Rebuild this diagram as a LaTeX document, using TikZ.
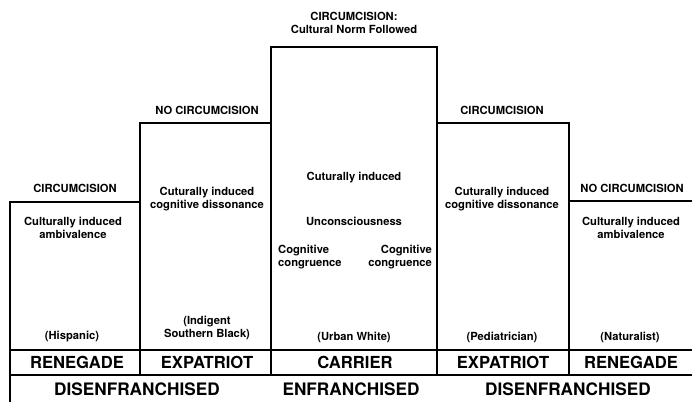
\documentclass[tikz,border=0pt]{standalone}
\usepackage{fontspec}
\setmainfont{TeX Gyre Heros}
\begin{document}
\begin{tikzpicture}[x=1pt,y=-1pt,
  frame/.style={line width=1.1pt,black},
  small/.style={font=\bfseries\fontsize{11.2}{12.5}\selectfont,align=center,inner sep=0pt},
  role/.style={font=\bfseries\fontsize{16.6}{20}\selectfont,inner sep=0pt},
  status/.style={font=\bfseries\fontsize{17.2}{20}\selectfont,inner sep=0pt}]
\useasboundingbox (0,0) rectangle (692,402);
% outline
\draw[frame] (10,402) -- (10,202) -- (140,202);
\draw[frame] (140,375) -- (140,123) -- (271,123);
\draw[frame] (271,375) -- (271,47) -- (437,47) -- (437,375);
\draw[frame] (437,123) -- (569,123) -- (569,375);
\draw[frame] (569,201) -- (692,201);
\draw[frame] (10,350) -- (692,350);
\draw[frame] (10,375) -- (692,375);
% headers
\node[small] (h1) at (75,188) {CIRCUMCISION};
\node[small] (h2) at (207,110) {NO CIRCUMCISION};
\node[small] (h3) at (354,23) {CIRCUMCISION:\\Cultural Norm Followed};
\node[small] (h4) at (502,110) {CIRCUMCISION};
\node[small] (h5) at (632,188) {NO CIRCUMCISION};
% bodies
\node[small] (b1) at (73,228) {Culturally induced\\ambivalence};
\node[small] (b2) at (207,199) {Cuturally induced\\cognitive dissonance};
\node[small] (b3a) at (354,178) {Cuturally induced};
\node[small] (b3b) at (354,221) {Unconsciousness};
\node[small,align=left,anchor=west] (b3c) at (278,257) {Cognitive\\congruence};
\node[small,align=right,anchor=east] (b3d) at (432,257) {Cognitive\\congruence};
\node[small] (b4) at (502,199) {Cuturally induced\\cognitive dissonance};
\node[small] (b5) at (631,228) {Culturally induced\\ambivalence};
% groups
\node[small] (g1) at (72,337) {(Hispanic)};
\node[small] (g2) at (207,328) {(Indigent\\Southern Black)};
\node[small] (g3) at (354,337) {(Urban White)};
\node[small] (g4) at (502,337) {(Pediatrician)};
\node[small] (g5) at (630,337) {(Naturalist)};
% roles
\node[role] (r1) at (77,362) {RENEGADE};
\node[role] (r2) at (207,362) {EXPATRIOT};
\node[role] (r3) at (355,362) {CARRIER};
\node[role] (r4) at (503,362) {EXPATRIOT};
\node[role] (r5) at (631,362) {RENEGADE};
% status
\node[status] (s1) at (137,389) {DISENFRANCHISED};
\node[status] (s2) at (351,389) {ENFRANCHISED};
\node[status] (s3) at (568,389) {DISENFRANCHISED};
\end{tikzpicture}
\end{document}
